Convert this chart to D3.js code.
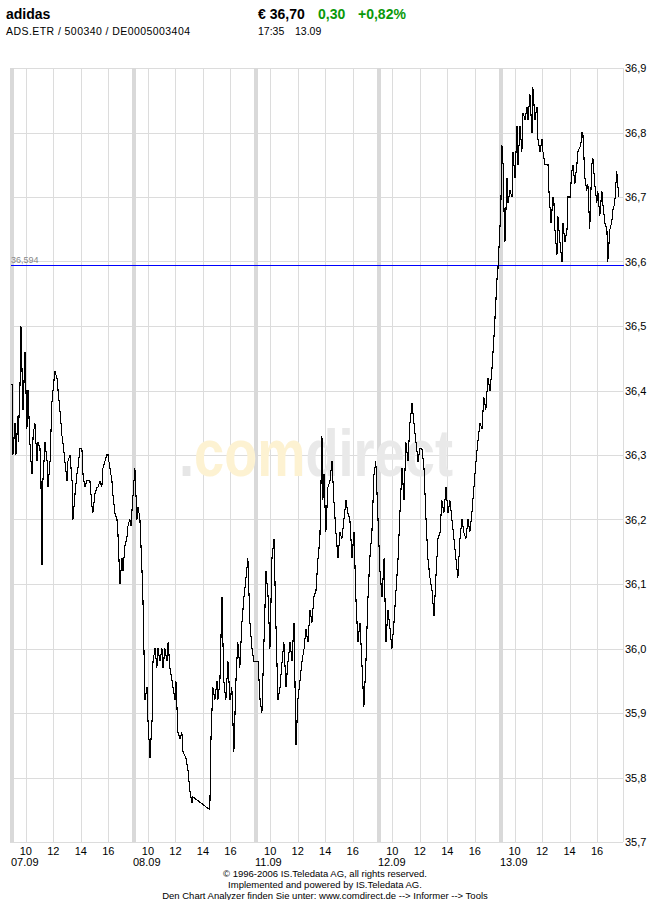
<!DOCTYPE html>
<html><head><meta charset="utf-8">
<script src="https://cdn.jsdelivr.net/npm/d3@7"></script>
<style>
body{margin:0;background:#fff}
svg{display:block;font-family:"Liberation Sans",Arial,sans-serif}
</style>
</head><body>
<svg id="chart" width="650" height="900"></svg>
<script>
// ---------- data ----------
const dayLabels = ["07.09", "08.09", "11.09", "12.09", "13.09"];
const hourTicks = [10, 12, 14, 16];
const priceTicks = [35.7, 35.8, 35.9, 36.0, 36.1, 36.2, 36.3, 36.4, 36.5, 36.6, 36.7, 36.8, 36.9];
const refLevel = 36.594;

const header = { name: "adidas", ids: "ADS.ETR / 500340 / DE0005003404", last: "€ 36,70", chg: "0,30", pct: "+0,82%", time: "17:35", date: "13.09" };
const footerLines = [
  "© 1996-2006 IS.Teledata AG, all rights reserved.",
  "Implemented and powered by IS.Teledata AG.",
  "Den Chart Analyzer finden Sie unter: www.comdirect.de --> Informer --> Tools"
];

// minutes after 09:00 and price, per trading day
const day1Min = [0,2,4,13,17,26,27,35,39,48,57,65,70,78,83,87,92,100,109,113,122,126,131,135,144,153,157,166,174,179,187,196,201,209,218,222,231,240,244,253,262,266,275,283,288,296,305,310,318,327,340,349,353,362,371,375,384,392,397,405,414,419,427,436,440,449,458,462,471,480,484,493,501,506,514,519];
const day1Price = [36.41,36.40,36.30,36.35,36.30,36.36,36.32,36.41,36.50,36.37,36.46,36.34,36.40,36.32,36.29,36.27,36.33,36.35,36.29,36.32,36.31,36.27,36.13,36.26,36.32,36.29,36.25,36.29,36.38,36.40,36.43,36.42,36.40,36.37,36.33,36.32,36.29,36.26,36.29,36.30,36.26,36.20,36.24,36.27,36.28,36.31,36.31,36.27,36.25,36.26,36.26,36.22,36.21,36.24,36.25,36.25,36.26,36.25,36.28,36.29,36.30,36.30,36.28,36.26,36.24,36.21,36.20,36.18,36.10,36.14,36.12,36.16,36.17,36.19,36.20,36.19];

const day2Min = [3,12,17,25,34,38,47,56,60,69,78,82,91,99,104,112,121,126,134,143,148,156,165,178,182,191,200,208,213,226,235,243,252,256,330,335,343,352,361,365,374,383,391,400,409,418,426,435,444,452,461,470,479,488,496,505,514,522];
const day2Price = [36.28,36.20,36.22,36.20,36.12,36.08,35.92,35.94,35.89,35.83,35.89,35.98,36.00,35.97,36.00,35.98,36.00,35.97,36.00,35.98,36.01,35.97,35.95,35.92,35.95,35.87,35.86,35.87,35.84,35.83,35.81,35.78,35.76,35.77,35.75,35.86,35.94,35.92,35.95,35.92,35.95,36.08,35.95,35.92,35.98,35.92,35.94,35.84,35.95,36.01,35.97,36.04,36.08,36.11,36.14,36.04,36.00,35.98];

const day3Min = [7,16,24,33,42,51,59,68,77,85,94,103,112,120,129,138,147,155,164,173,181,190,199,208,216,225,234,242,251,260,269,277,286,290,295,303,312,321,330,338,347,356,365,373,382,391,399,408,417,426,434,443,452,460,469,478,487,495,504,513,521];
const day3Price = [35.98,35.92,35.90,36.01,36.12,36.08,36.00,36.14,36.17,36.04,35.92,35.94,35.98,36.01,35.94,35.98,36.01,35.98,36.04,35.85,35.92,35.95,35.98,36.00,36.03,36.01,36.06,36.04,36.08,36.09,36.14,36.17,36.33,36.23,36.27,36.18,36.25,36.26,36.29,36.23,36.18,36.14,36.18,36.17,36.20,36.23,36.21,36.20,36.14,36.18,36.08,36.01,36.04,35.98,35.91,35.98,36.08,36.14,36.18,36.27,36.29];

const day4Min = [6,15,24,32,41,50,58,67,76,85,93,102,111,119,128,137,146,154,163,172,180,189,198,207,215,224,233,242,250,259,268,276,285,294,303,311,320,329,337,346,355,364,372,381,390,398,407,416,425,433,442,451,459,468,477,486,494,503,512,516,521];
const day4Price = [36.12,36.08,36.14,36.01,36.06,36.03,36.00,36.04,36.09,36.14,36.21,36.28,36.23,36.32,36.29,36.35,36.38,36.35,36.32,36.29,36.31,36.31,36.28,36.20,36.14,36.11,36.09,36.05,36.11,36.17,36.18,36.23,36.21,36.25,36.21,36.23,36.20,36.17,36.14,36.11,36.17,36.20,36.18,36.17,36.20,36.18,36.21,36.25,36.29,36.32,36.35,36.34,36.39,36.37,36.42,36.40,36.43,36.48,36.54,36.57,36.59];

const day5Min = [0,5,10,14,18,27,31,40,49,53,62,71,75,84,92,97,106,114,119,127,136,140,149,158,162,171,180,184,193,206,210,219,228,232,236,245,249,258,267,271,280,289,293,302,310,315,323,332,336,349,354,358,367,375,380,388,397,402,410,419,423,432,441,445,454,463,467,476,484,489,497,506,510,515];
const day5Price = [36.68,36.78,36.75,36.68,36.63,36.73,36.69,36.71,36.70,36.77,36.73,36.81,36.75,36.81,36.77,36.83,36.82,36.84,36.82,36.86,36.80,36.87,36.82,36.84,36.79,36.77,36.79,36.77,36.75,36.75,36.71,36.66,36.70,36.69,36.65,36.61,36.67,36.63,36.60,36.66,36.63,36.65,36.70,36.70,36.74,36.75,36.72,36.75,36.77,36.78,36.80,36.80,36.73,36.71,36.72,36.65,36.75,36.76,36.72,36.69,36.71,36.67,36.71,36.69,36.66,36.65,36.60,36.65,36.66,36.68,36.69,36.74,36.72,36.70];

const dayMins = [day1Min, day2Min, day3Min, day4Min, day5Min];
const dayPrices = [day1Price, day2Price, day3Price, day4Price, day5Price];

// ---------- layout ----------
const svg = d3.select("#chart");
const plotL = 10, plotR = 623, plotT = 68, plotB = 842;
const slot = 8.887;          // hours per day slot (09:00 session + gap)
const sessionStart = 9;

const x = d3.scaleLinear().domain([0, dayLabels.length * slot]).range([12, plotR]);
const y = d3.scaleLinear().domain([35.7, 36.9]).range([plotB, plotT]);
const px = v => Math.round(v) + 0.5;

const pts = [];
dayMins.forEach((mins, d) => mins.forEach((m, i) => pts.push({ u: d * slot + m / 60, p: dayPrices[d][i] })));

const fmt = v => d3.format(".1f")(v).replace(".", ",");

// ---------- grid ----------
const grid = svg.append("g");
grid.selectAll("line.h").data(priceTicks).join("line")
  .attr("x1", plotL).attr("x2", plotR)
  .attr("y1", d => px(y(d))).attr("y2", d => px(y(d)))
  .attr("stroke", "#dcdcdc").attr("stroke-width", 1);
const hourPos = [];
dayLabels.forEach((_, d) => hourTicks.forEach(h => hourPos.push({ d, h, u: d * slot + (h - sessionStart) })));
grid.selectAll("line.v").data(hourPos).join("line")
  .attr("x1", d => px(x(d.u))).attr("x2", d => px(x(d.u)))
  .attr("y1", plotT).attr("y2", plotB)
  .attr("stroke", "#dcdcdc").attr("stroke-width", 1);
grid.append("line").attr("x1", px(plotR)).attr("x2", px(plotR)).attr("y1", plotT).attr("y2", plotB)
  .attr("stroke", "#dcdcdc");
grid.selectAll("rect.sep").data(dayLabels).join("rect")
  .attr("x", (d, i) => Math.round(x(i * slot)) - 2).attr("y", plotT)
  .attr("width", 4).attr("height", plotB - plotT)
  .attr("fill", "#d9d9d9");

// ---------- watermark (single text, coloured by hard-stop gradient) ----------
const defs = svg.append("defs");
const grad = defs.append("linearGradient").attr("id", "wmFill")
  .attr("gradientUnits", "userSpaceOnUse").attr("x1", 179).attr("x2", 453).attr("y1", 0).attr("y2", 0);
[[0, "#e6e6e6"], [0.045, "#e6e6e6"], [0.045, "#fdf2d2"], [0.45, "#fdf2d2"], [0.45, "#e9e9e9"], [1, "#e9e9e9"]]
  .forEach(([o, c]) => grad.append("stop").attr("offset", o).attr("stop-color", c));
svg.append("text").attr("x", 179).attr("y", 476)
  .attr("font-weight", "bold").attr("font-size", 66)
  .attr("font-family", "'Liberation Sans', Arial, sans-serif")
  .attr("textLength", 274).attr("lengthAdjust", "spacingAndGlyphs")
  .attr("fill", "url(#wmFill)").text(".comdirect");

// ---------- reference line ----------
svg.append("line").attr("x1", plotL + 1).attr("x2", plotR + 1)
  .attr("y1", px(y(refLevel))).attr("y2", px(y(refLevel)))
  .attr("stroke", "#0000ff").attr("stroke-width", 1);
svg.append("text").attr("x", 11).attr("y", px(y(refLevel)) - 3)
  .attr("font-size", 9).attr("fill", "#888").text(String(refLevel).replace(".", ","));

// ---------- price line ----------
svg.append("path").datum(pts)
  .attr("d", d3.line().x(d => x(d.u)).y(d => y(d.p)))
  .attr("fill", "none").attr("stroke", "#000").attr("stroke-width", 1.1)
  .attr("shape-rendering", "crispEdges");

// ---------- axes labels ----------
svg.append("g").selectAll("text").data(priceTicks).join("text")
  .attr("x", plotR + 2).attr("y", d => y(d) + 4)
  .attr("font-size", 11).attr("fill", "#000").text(fmt);

svg.append("g").selectAll("text").data(hourPos).join("text")
  .attr("x", d => x(d.u)).attr("y", 855).attr("text-anchor", "middle")
  .attr("font-size", 11).attr("fill", "#000").text(d => d.h);

svg.append("g").selectAll("text").data(dayLabels).join("text")
  .attr("x", (d, i) => Math.round(x(i * slot)) - 1).attr("y", 866)
  .attr("font-size", 11).attr("fill", "#000").text(d => d);

// ---------- header ----------
const hd = svg.append("g");
hd.append("text").attr("x", 6).attr("y", 19).attr("font-size", 14).attr("font-weight", "bold").text(header.name);
hd.append("text").attr("x", 6).attr("y", 35).attr("font-size", 10.5)
  .attr("textLength", 184).attr("lengthAdjust", "spacing").text(header.ids);
hd.append("text").attr("x", 258).attr("y", 19).attr("font-size", 14).attr("font-weight", "bold").text(header.last);
hd.append("text").attr("x", 318).attr("y", 19).attr("font-size", 14).attr("font-weight", "bold").attr("fill", "#0a990a").text(header.chg);
hd.append("text").attr("x", 358).attr("y", 19).attr("font-size", 14).attr("font-weight", "bold").attr("fill", "#0a990a").text(header.pct);
hd.append("text").attr("x", 258).attr("y", 35).attr("font-size", 10.5).text(header.time);
hd.append("text").attr("x", 295).attr("y", 35).attr("font-size", 10.5).text(header.date);

// ---------- footer ----------
svg.append("g").selectAll("text").data(footerLines).join("text")
  .attr("x", 325).attr("y", (d, i) => 877 + i * 11).attr("text-anchor", "middle")
  .attr("font-size", 9.5).attr("fill", "#000").text(d => d);
</script>
</body></html>
